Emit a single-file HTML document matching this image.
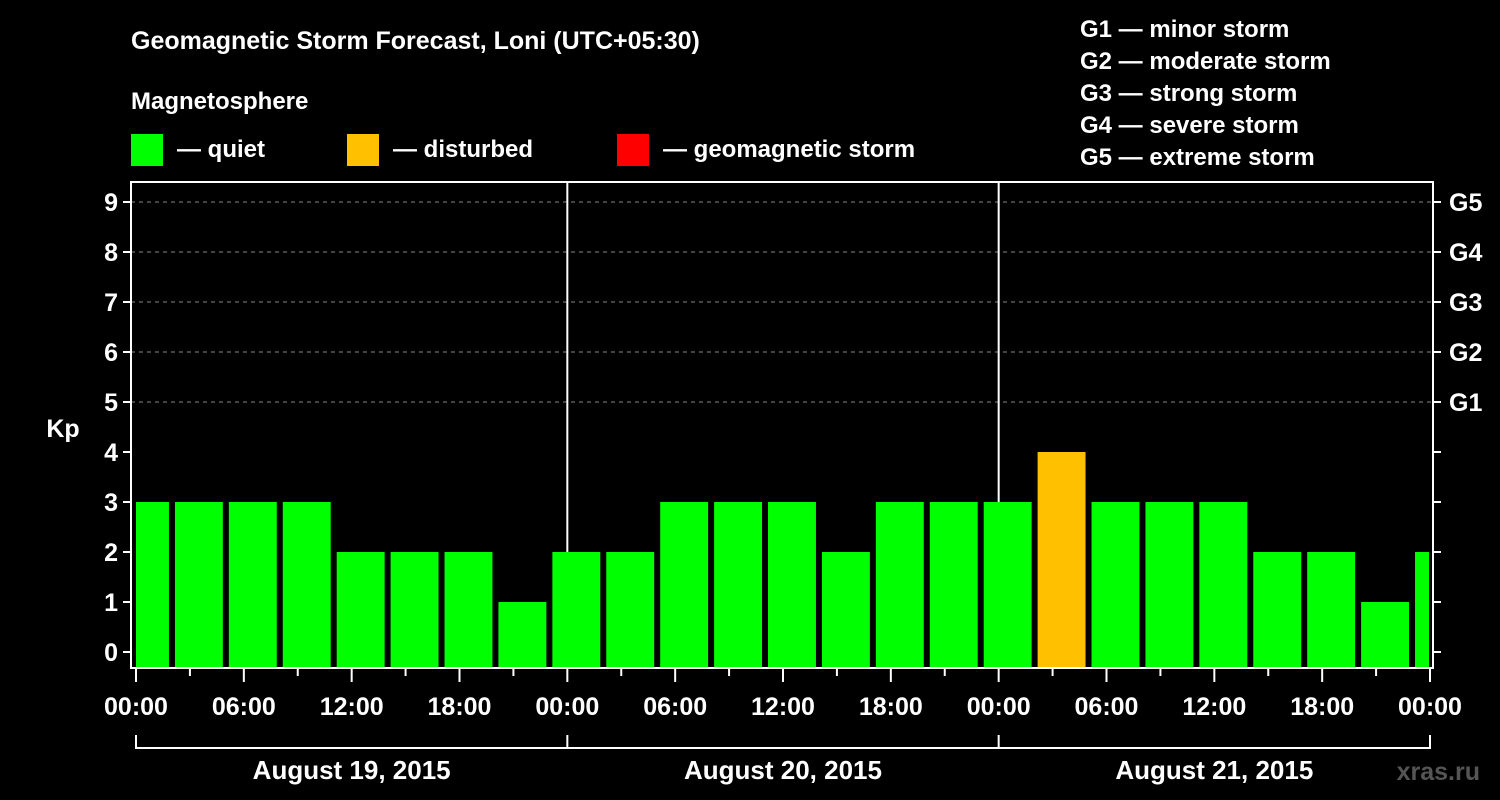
<!DOCTYPE html>
<html><head><meta charset="utf-8"><style>
html,body{margin:0;padding:0;background:#000;}
svg{display:block;font-family:"Liberation Sans",Arial,sans-serif;font-weight:bold;}
</style></head><body>
<svg id="chart" width="1500" height="800" viewBox="0 0 1500 800">
<rect width="1500" height="800" fill="#000"/>
<text x="131" y="49" fill="#fff" font-size="25">Geomagnetic Storm Forecast, Loni (UTC+05:30)</text>
<text x="131" y="109" fill="#fff" font-size="24">Magnetosphere</text>
<g><rect x="131" y="134" width="32" height="32" fill="#00ff00"/><text x="177" y="157" fill="#fff" font-size="24">— quiet</text></g>
<g><rect x="347" y="134" width="32" height="32" fill="#ffc000"/><text x="393" y="157" fill="#fff" font-size="24">— disturbed</text></g>
<g><rect x="617" y="134" width="32" height="32" fill="#ff0000"/><text x="663" y="157" fill="#fff" font-size="24">— geomagnetic storm</text></g>
<g fill="#fff" font-size="24">
<text x="1080" y="37">G1 — minor storm</text>
<text x="1080" y="69">G2 — moderate storm</text>
<text x="1080" y="101">G3 — strong storm</text>
<text x="1080" y="133">G4 — severe storm</text>
<text x="1080" y="165">G5 — extreme storm</text>
</g>
<text x="63" y="437" fill="#fff" font-size="25" text-anchor="middle">Kp</text>
<text x="1480" y="780" fill="#555" font-size="25" text-anchor="end">xras.ru</text>
<g id="grid"></g>
<g id="bars"></g>
<g id="axes"></g>
</svg>
<script>
const kpValues = [3,3,3,3,2,2,2,1, 2,2,3,3,3,2,3,3, 3,4,3,3,3,2,2,1,2];
const yTicks = [0,1,2,3,4,5,6,7,8,9];
const gLabels = ["G1","G2","G3","G4","G5"];
const gLevels = [5,6,7,8,9];
const timeLabels = ["00:00","06:00","12:00","18:00","00:00","06:00","12:00","18:00","00:00","06:00","12:00","18:00","00:00"];
const dayLabels = ["August 19, 2015","August 20, 2015","August 21, 2015"];
const firstSlotStartHour = -1;

const NS="http://www.w3.org/2000/svg";
const L=131,R=1433,T=182,B=668;
const x0=136, pxPerHour=(1430-136)/72;
function xs(h){return x0+h*pxPerHour;}
function ys(v){return 652-v*50;}
function mk(tag,attrs,parent,txt){const e=document.createElementNS(NS,tag);for(const k in attrs)e.setAttribute(k,attrs[k]);if(txt!==undefined)e.textContent=txt;parent.appendChild(e);return e;}
const grid=document.getElementById('grid'),bars=document.getElementById('bars'),axes=document.getElementById('axes');

gLevels.forEach((lv,i)=>{
  const ln=mk('line',{x1:L,x2:R,y1:ys(lv),y2:ys(lv),stroke:'#888','stroke-dasharray':'4,4','stroke-width':1},grid);
  
  
  const t=mk('text',{x:1449,y:ys(lv)+9,fill:'#fff','font-size':25},axes,gLabels[i]);
  
  
});
// day separators
[1,2].forEach(d=>{
  const ln=mk('line',{x1:xs(d*24),x2:xs(d*24),y1:T,y2:B,stroke:'#fff','stroke-width':2},grid);
  
  
});
kpValues.forEach((v,i)=>{
  const h0=firstSlotStartHour+3*i;
  let xa=xs(h0)+3, xb=xs(h0+3)-3;
  xa=Math.max(xa,x0); xb=Math.min(xb,1429);
  const col=v>=5?'#ff0000':(v>=4?'#ffc000':'#00ff00');
  const r=mk('rect',{x:xa,y:ys(v),width:Math.max(0,xb-xa),height:B-ys(v),fill:col},bars);
  
  
});
// frame
const fr=mk('rect',{x:L,y:T,width:R-L,height:B-T,fill:'none',stroke:'#fff','stroke-width':2},axes);


yTicks.forEach(v=>{
  mk('line',{x1:L-8,x2:L,y1:ys(v),y2:ys(v),stroke:'#fff','stroke-width':2},axes);
  mk('line',{x1:R,x2:R+8,y1:ys(v),y2:ys(v),stroke:'#fff','stroke-width':2},axes);
  const t=mk('text',{x:L-13,y:ys(v)+9,fill:'#fff','font-size':25,'text-anchor':'end'},axes,String(v));
  
  
});
for(let h=0;h<=72;h+=3){
  const major=h%6===0;
  mk('line',{x1:xs(h),x2:xs(h),y1:B,y2:B+(major?14:8),stroke:'#fff','stroke-width':2},axes);
}
timeLabels.forEach((lb,i)=>{
  const t=mk('text',{x:xs(i*6),y:715,fill:'#fff','font-size':25,'text-anchor':'middle'},axes,lb);
  
  
});
mk('path',{d:`M${xs(0)},735 V748 H${xs(72)} V735 M${xs(24)},735 V748 M${xs(48)},735 V748`,stroke:'#fff','stroke-width':2,fill:'none'},axes);
dayLabels.forEach((lb,i)=>{
  const t=mk('text',{x:xs(i*24+12),y:779,fill:'#fff','font-size':26,'text-anchor':'middle'},axes,lb);
  
  
});
</script>
</body></html>
